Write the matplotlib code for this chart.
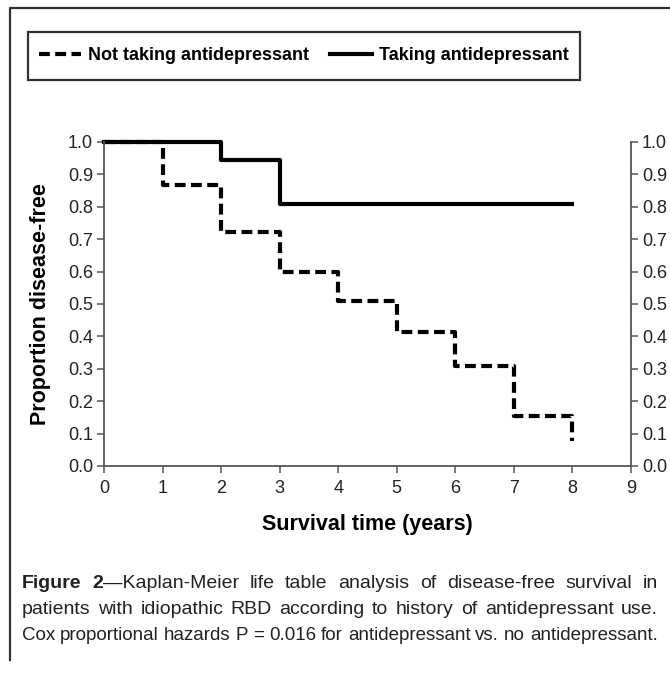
import matplotlib
matplotlib.use("Agg")
import matplotlib.pyplot as plt
from matplotlib.lines import Line2D
from matplotlib import font_manager

# data
years = [0, 1, 2, 3, 4, 5, 6, 7, 8]
not_taking = [1.0, 0.867, 0.722, 0.60, 0.51, 0.413, 0.31, 0.155, 0.078]
taking = [1.0, 1.0, 0.944, 0.81, 0.81, 0.81, 0.81, 0.81, 0.81]
yticks = [0.0, 0.1, 0.2, 0.3, 0.4, 0.5, 0.6, 0.7, 0.8, 0.9, 1.0]
xticks = [0, 1, 2, 3, 4, 5, 6, 7, 8, 9]

caption_lines = [
    [[("Figure", "bold")], [("2", "bold"), ("\u2014Kaplan-Meier", "normal")],
     "life", "table", "analysis", "of", "disease-free", "survival", "in"],
    "patients with idiopathic RBD according to history of antidepressant use.".split(),
    "Cox proportional hazards P = 0.016 for antidepressant vs. no antidepressant.".split(),
]

names = {f.name for f in font_manager.fontManager.ttflist}
FAM = "Liberation Sans Narrow" if "Liberation Sans Narrow" in names else "Liberation Sans"
plt.rcParams["font.family"] = [FAM, "DejaVu Sans"]

fig = plt.figure(figsize=(6.7, 6.73), dpi=100)
W, H = 670, 673
ax = fig.add_axes([104 / W, 1 - 466 / H, (631 - 104) / W, (466 - 142) / H])

# step curves (value holds until next year)
x_nt = [0]
y_nt = [not_taking[0]]
for i in range(1, len(years)):
    x_nt += [years[i], years[i]]
    y_nt += [not_taking[i - 1], not_taking[i]]
ax.plot(x_nt, y_nt, color="black", lw=3, ls=(0, (2.6, 1.3)), clip_on=False,
        solid_capstyle="butt", dash_capstyle="butt")

x_t = [0]
y_t = [taking[0]]
for i in range(1, len(years)):
    x_t += [years[i], years[i]]
    y_t += [taking[i - 1], taking[i]]
ax.plot(x_t, y_t, color="black", lw=3, clip_on=False)

ax.set_xlim(0, 9)
ax.set_ylim(0, 1.0)
ax.set_xticks(xticks)
ax.set_yticks(yticks)
ax.set_yticklabels([f"{v:.1f}" for v in yticks])
ax.spines["top"].set_visible(False)
for s in ["left", "right", "bottom"]:
    ax.spines[s].set_color("#555555")
    ax.spines[s].set_linewidth(1.3)
ax.tick_params(axis="both", direction="out", length=5, width=1.1, color="#555555",
               labelsize=13, pad=3, labelcolor="#222222")
ax.tick_params(axis="y", right=True, labelright=True)
ax.tick_params(axis="x", pad=5)

ax.set_xlabel("Survival time (years)", fontsize=15.5, fontweight="bold", labelpad=12)
ax.set_ylabel("Proportion disease-free", fontsize=15.5, fontweight="bold", labelpad=12)

# legend box
fig.patches.append(plt.Rectangle((28 / W, 1 - 80 / H), (580 - 28) / W, 48 / H,
                                 transform=fig.transFigure, fill=False,
                                 edgecolor="#333333", lw=1.6))
handles = [Line2D([], [], color="black", lw=3, ls=(0, (2.6, 1.3))),
           Line2D([], [], color="black", lw=3)]
fig.legend(handles, ["Not taking antidepressant", "Taking antidepressant"],
           loc="center", bbox_to_anchor=(304 / W, 1 - 56 / H), ncol=2,
           frameon=False, handlelength=2.3, handletextpad=0.4, columnspacing=1.2,
           prop={"weight": "bold", "size": 13})

# outer frame (top and left)
fig.add_artist(Line2D([10 / W, 10 / W, 1.0], [1 - 660 / H, 1 - 8 / H, 1 - 8 / H],
                      transform=fig.transFigure, color="#333333", lw=1.6))

# justified caption
renderer = fig.canvas.get_renderer()


def seg_width(text, weight, size):
    t = fig.text(0, 0, text, fontsize=size, fontweight=weight)
    w = t.get_window_extent(renderer).width
    t.remove()
    return w


base_size = 14
x0, x1 = 22, 658
y_lines = [583, 609, 635]
for words, yl in zip(caption_lines, y_lines):
    words = [[(w, "normal")] if isinstance(w, str) else w for w in words]
    size = base_size
    widths = [[seg_width(s, wt, size) for s, wt in w] for w in words]
    total = sum(sum(ws) for ws in widths)
    space = seg_width("a a", "normal", size) - seg_width("aa", "normal", size)
    natural = total + space * 0.8 * (len(words) - 1)
    if natural > x1 - x0:
        size = base_size * (x1 - x0) / natural
        widths = [[seg_width(s, wt, size) for s, wt in w] for w in words]
        total = sum(sum(ws) for ws in widths)
    gap = (x1 - x0 - total) / (len(words) - 1)
    x = x0
    for w, ws in zip(words, widths):
        for (s, wt), sw in zip(w, ws):
            fig.text(x / W, 1 - yl / H, s, fontsize=size, fontweight=wt,
                     va="center", ha="left", color="#222222")
            x += sw
        x += gap

fig.savefig("out.png", dpi=100)
